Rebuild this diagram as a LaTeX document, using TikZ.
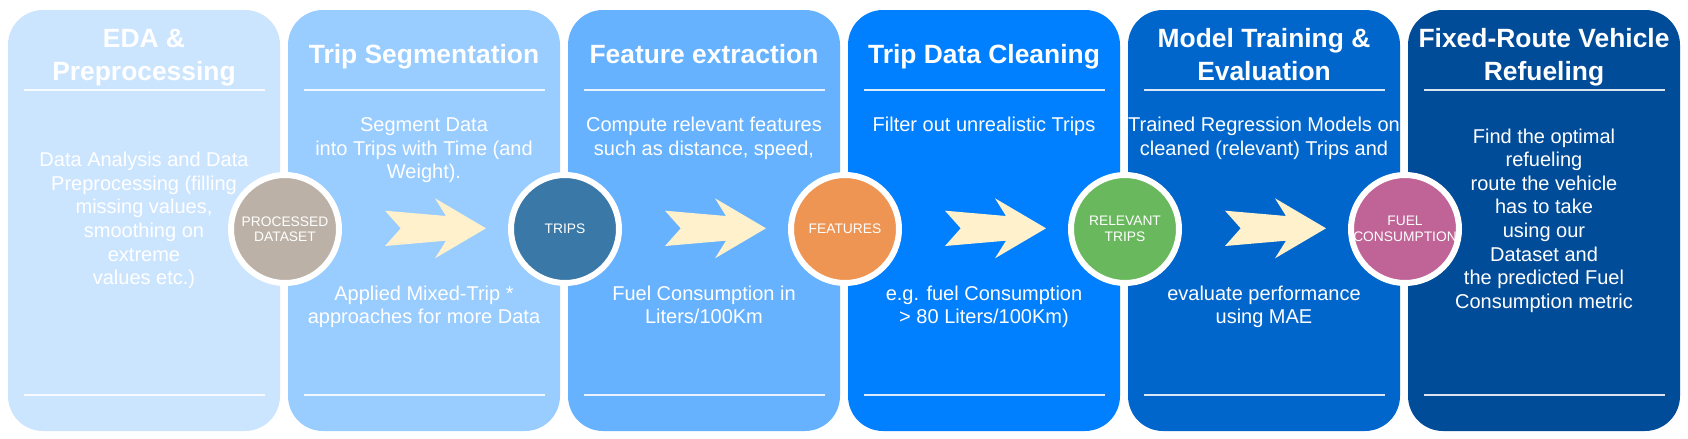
\documentclass[tikz,border=0pt]{standalone}
\usepackage{fontspec}
\setmainfont{Liberation Sans}
\definecolor{pA}{HTML}{CCE5FF}
\definecolor{pB}{HTML}{99CCFF}
\definecolor{pC}{HTML}{66B2FF}
\definecolor{pD}{HTML}{007FFF}
\definecolor{pE}{HTML}{0066CC}
\definecolor{pF}{HTML}{004C99}
\definecolor{cA}{HTML}{BCB1A7}
\definecolor{cB}{HTML}{3A79A7}
\definecolor{cC}{HTML}{EE9554}
\definecolor{cD}{HTML}{6AB85E}
\definecolor{cE}{HTML}{C06497}
\definecolor{arr}{HTML}{FFF1CC}
\begin{document}
\begin{tikzpicture}[x=0.5pt,y=-0.5pt,
  panel/.style={rounded corners=17.5pt, minimum width=136pt, minimum height=210.5pt, inner sep=0pt, draw=none},
  circ/.style={circle, draw=white, line width=3pt, minimum size=54pt, inner sep=0pt},
  ctext/.style={text=white, align=center, inner sep=0pt, font=\fontsize{6.9}{7.75}\selectfont},
  ttl/.style={text=white, align=center, inner sep=0pt, anchor=base, font=\bfseries\fontsize{13.2}{16.5}\selectfont},
  body/.style={text=white, align=center, inner sep=0pt, anchor=base, font=\fontsize{10}{11.8}\selectfont},
  sepline/.style={white, opacity=0.85, line width=1pt},
  arrowshape/.style={fill=arr, draw=none}]
\fill[white] (0,0) rectangle (1688,439);
\useasboundingbox (0,0) rectangle (1688,439);
% panels
\node[panel, fill=pA] (P1) at (144,220.5) {};
\node[panel, fill=pB] (P2) at (424,220.5) {};
\node[panel, fill=pC] (P3) at (704,220.5) {};
\node[panel, fill=pD] (P4) at (984,220.5) {};
\node[panel, fill=pE] (P5) at (1264,220.5) {};
\node[panel, fill=pF] (P6) at (1544,220.5) {};
% separators
\foreach \L in {8,288,568,848,1128,1408}{
  \draw[sepline] (\L+16,90) -- (\L+257,90);
  \draw[sepline] (\L+16,395) -- (\L+257,395);
}
% arrows
\foreach \L in {288,568,848,1128}{
  \fill[arrowshape] (\L+97,210.7) -- (\L+112.7,228.3) -- (\L+97,246) -- (\L+158,240.7)
    -- (\L+147,258.3) -- (\L+198,228.3) -- (\L+147,198.3) -- (\L+158,216) -- cycle;
}
% titles (anchor base = last line)
\node[ttl] (T1) at (144,80) {EDA \&\\Preprocessing};
\node[ttl] (T2) at (424,63) {Trip Segmentation};
\node[ttl] (T3) at (704,63) {Feature extraction};
\node[ttl] (T4) at (984,63) {Trip Data Cleaning};
\node[ttl] (T5) at (1264,80) {Model Training \&\\Evaluation};
\node[ttl] (T6) at (1544,80) {Fixed-Route Vehicle\\Refueling};
% body texts (anchor base = last line)
\node[body] (B1) at (144,284.7) {Data Analysis and Data\\Preprocessing (filling\\missing values,\\smoothing on\\extreme\\values etc.)};
\node[body] (B2a) at (424,178.9) {Segment Data\\into Trips with Time (and\\Weight).};
\node[body] (B2b) at (424,323.6) {Applied Mixed-Trip *\\approaches for more Data};
\node[body] (B3a) at (704,155.3) {Compute relevant features\\such as distance, speed,};
\node[body] (B3b) at (704,323.6) {Fuel Consumption in\\Liters/100Km};
\node[body] (B4a) at (984,131.7) {Filter out unrealistic Trips};
\node[body] (B4b) at (984,323.6) {e.g. fuel Consumption\\> 80 Liters/100Km)};
\node[body] (B5a) at (1264,155.3) {Trained Regression Models on\\cleaned (relevant) Trips and};
\node[body] (B5b) at (1264,323.6) {evaluate performance\\using MAE};
\node[body] (B6) at (1544,308.2) {Find the optimal\\refueling\\route the vehicle\\has to take\\using our\\Dataset and\\the predicted Fuel\\Consumption metric};
% circles
\node[circ, fill=cA] (C1) at (285,229) {};
\node[circ, fill=cB] (C2) at (565,229) {};
\node[circ, fill=cC] (C3) at (845,229) {};
\node[circ, fill=cD] (C4) at (1125,229) {};
\node[circ, fill=cE] (C5) at (1405,229) {};
\node[ctext] (C1t) at (C1) {PROCESSED\\DATASET};
\node[ctext] (C2t) at (C2) {TRIPS};
\node[ctext] (C3t) at (C3) {FEATURES};
\node[ctext] (C4t) at (C4) {RELEVANT\\TRIPS};
\node[ctext] (C5t) at (C5) {FUEL\\CONSUMPTION};
\end{tikzpicture}
\end{document}
